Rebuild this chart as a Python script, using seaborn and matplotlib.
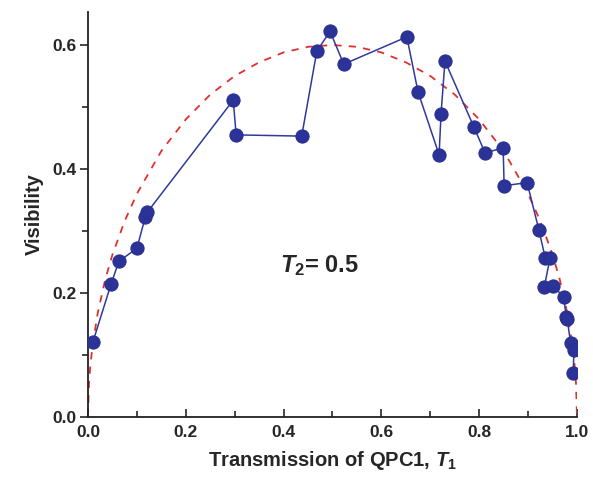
import matplotlib
matplotlib.use("Agg")
import matplotlib.pyplot as plt
import seaborn as sns
import pandas as pd
from matplotlib.ticker import MultipleLocator

# measured points (in connection order)
t1_meas = [0.010, 0.047, 0.063, 0.100, 0.117, 0.121, 0.297, 0.303, 0.437, 0.468,
           0.495, 0.523, 0.652, 0.675, 0.718, 0.722, 0.730, 0.789, 0.812, 0.849,
           0.851, 0.898, 0.922, 0.935, 0.945, 0.933, 0.951, 0.973, 0.978, 0.980,
           0.987, 0.994, 0.992]
vis_meas = [0.121, 0.214, 0.251, 0.272, 0.322, 0.330, 0.511, 0.455, 0.453, 0.590,
            0.622, 0.569, 0.613, 0.524, 0.423, 0.489, 0.574, 0.468, 0.426, 0.434,
            0.373, 0.378, 0.302, 0.257, 0.257, 0.209, 0.212, 0.193, 0.161, 0.158,
            0.119, 0.108, 0.071]

# dashed theory curve
t1_theory = [0.0, 0.002, 0.005, 0.01, 0.02, 0.035, 0.05, 0.075, 0.1, 0.15, 0.2, 0.25,
             0.3, 0.35, 0.4, 0.45, 0.5, 0.55, 0.6, 0.65, 0.7, 0.75, 0.8, 0.85, 0.9,
             0.925, 0.95, 0.965, 0.98, 0.99, 0.995, 0.998, 1.0]
vis_theory = [0.0, 0.054, 0.085, 0.119, 0.168, 0.221, 0.262, 0.316, 0.360, 0.429,
              0.480, 0.520, 0.550, 0.572, 0.588, 0.597, 0.600, 0.597, 0.588, 0.572,
              0.550, 0.520, 0.480, 0.429, 0.360, 0.316, 0.262, 0.221, 0.168, 0.119,
              0.085, 0.054, 0.0]

x_ticks = [0.0, 0.2, 0.4, 0.6, 0.8, 1.0]
y_ticks = [0.0, 0.2, 0.4, 0.6]

sns.set_style("white")
plt.rcParams['font.family'] = ['Liberation Sans', 'DejaVu Sans']
plt.rcParams['mathtext.fontset'] = 'custom'
plt.rcParams['mathtext.it'] = 'Liberation Sans:italic:bold'
plt.rcParams['mathtext.rm'] = 'Liberation Sans:bold'
plt.rcParams['mathtext.bf'] = 'Liberation Sans:bold'

fig = plt.figure(figsize=(5.93, 4.84), dpi=100)
ax = fig.add_axes([0.1484, 0.1384, 0.8246, 0.8366])

df_th = pd.DataFrame({"T1": t1_theory, "V": vis_theory})
df_m = pd.DataFrame({"T1": t1_meas, "V": vis_meas})

sns.lineplot(data=df_th, x="T1", y="V", sort=False, ax=ax, color="#e0302e",
             linewidth=1.3, dashes=False, linestyle=(0, (4, 4)), zorder=2)
sns.lineplot(data=df_m, x="T1", y="V", sort=False, ax=ax, color="#2e3a9c",
             linewidth=1.1, marker="o", markersize=9.5, markeredgecolor="#2a2f8f",
             markerfacecolor="#2b3399", zorder=3)

ax.set_xlim(0, 1.0)
ax.set_ylim(0, 0.653)
ax.set_xticks(x_ticks)
ax.set_yticks(y_ticks)
ax.set_xticklabels([f"{v:.1f}" for v in x_ticks], fontweight="bold", fontsize=12.5)
ax.set_yticklabels([f"{v:.1f}" for v in y_ticks], fontweight="bold", fontsize=12.5)
ax.xaxis.set_minor_locator(MultipleLocator(0.1))
ax.yaxis.set_minor_locator(MultipleLocator(0.1))
ax.tick_params(axis="x", which="major", direction="in", length=6, width=1.2, pad=6)
ax.tick_params(axis="x", which="minor", direction="in", length=4, width=1.2)
ax.tick_params(axis="y", which="major", direction="out", length=6, width=1.2, pad=2)
ax.tick_params(axis="y", which="minor", direction="out", length=4, width=1.2)
ax.tick_params(bottom=True, left=True, which="both")

for s in ["top", "right"]:
    ax.spines[s].set_visible(False)
for s in ["left", "bottom"]:
    ax.spines[s].set_color("#222222")
    ax.spines[s].set_linewidth(1.3)

ax.set_xlabel(r"Transmission of QPC1, $T_1$", fontsize=14.5, fontweight="bold", labelpad=6)
ax.set_ylabel("Visibility", fontsize=14.5, fontweight="bold", labelpad=6)

ax.text(0.474, 0.244, r"$T_2$= 0.5", fontsize=17, fontweight="bold",
        ha="center", va="center")

fig.savefig("out.png", dpi=100)
